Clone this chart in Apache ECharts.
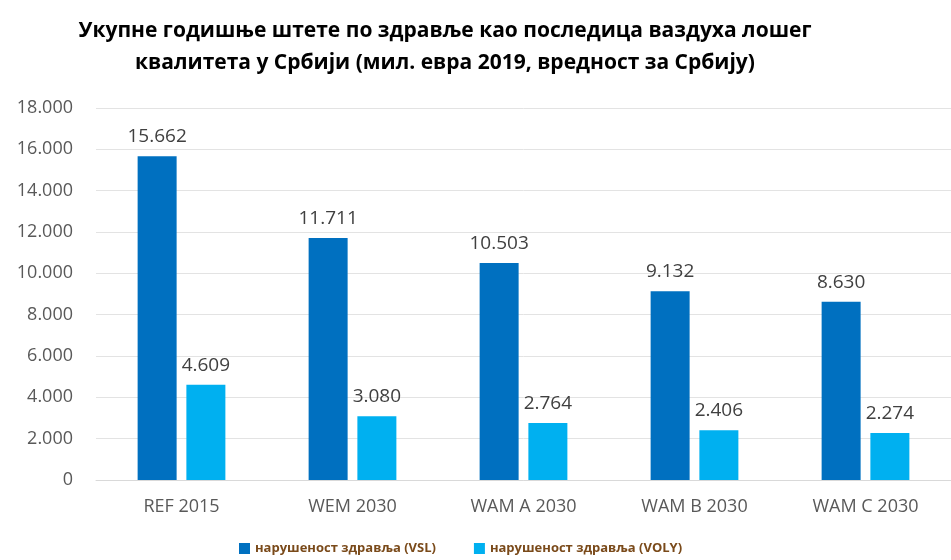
<!DOCTYPE html>
<html>
<head>
<meta charset="utf-8">
<script src="https://cdn.jsdelivr.net/npm/echarts@6/dist/echarts.min.js"></script>
<style>
  html, body { margin: 0; padding: 0; background: #fff; }
  #chart { width: 951px; height: 560px; }
</style>
</head>
<body>
<div id="chart"></div>
<script>
const categories = ['REF 2015', 'WEM 2030', 'WAM A 2030', 'WAM B 2030', 'WAM C 2030']
const seriesNames = ['нарушеност здравља (VSL)', 'нарушеност здравља (VOLY)']
const vsl = [15662, 11711, 10503, 9132, 8630]
const voly = [4609, 3080, 2764, 2406, 2274]
const colors = ['#0070C0', '#00B0F0']

const fmt = (v) => v === 0 ? '0' : v.toString().replace(/\B(?=(\d{3})+(?!\d))/g, '.')

const chart = echarts.init(document.getElementById('chart'))
chart.setOption({
  backgroundColor: '#fff',
  animation: false,
  title: {
    text: 'Укупне годишње штете по здравље као последица ваздуха лошег\nквалитета у Србији (мил. евра 2019, вредност за Србију)',
    left: 440,
    top: 10,
    textAlign: 'center',
    textStyle: {
      fontFamily: 'Open Sans, sans-serif',
      fontSize: 21,
      fontWeight: 'bold',
      color: '#000',
      lineHeight: 32,
    },
  },
  grid: { left: 96, top: 108, width: 869, height: 372, containLabel: false },
  legend: {
    bottom: 0,
    left: 234,
    itemGap: 38,
    itemWidth: 11,
    itemHeight: 11,
    icon: 'rect',
    textStyle: { fontSize: 13, fontWeight: 'bold', color: '#7a4a1a', fontFamily: 'Open Sans, sans-serif' },
  },
  xAxis: {
    type: 'category',
    data: categories,
    axisTick: { show: false },
    axisLine: { lineStyle: { color: '#d9d9d9' } },
    axisLabel: { fontSize: 18, color: '#595959', margin: 18, fontFamily: 'Open Sans, sans-serif' },
  },
  yAxis: {
    type: 'value',
    min: 0,
    max: 18000,
    interval: 2000,
    axisLine: { show: false },
    axisTick: { show: false },
    splitLine: { lineStyle: { color: '#e3e3e3' } },
    axisLabel: { fontSize: 18, color: '#595959', margin: 23, formatter: fmt, fontFamily: 'Open Sans, sans-serif' },
  },
  series: [vsl, voly].map((data, i) => ({
    name: seriesNames[i],
    type: 'bar',
    data,
    barWidth: 39,
    barGap: '25%',
    itemStyle: { color: colors[i] },
    label: {
      show: true,
      position: 'top',
      distance: 10,
      fontSize: 19,
      color: '#404040',
      formatter: (p) => fmt(p.value),
      fontFamily: 'Open Sans, sans-serif',
    },
  })),
})
</script>
</body>
</html>
